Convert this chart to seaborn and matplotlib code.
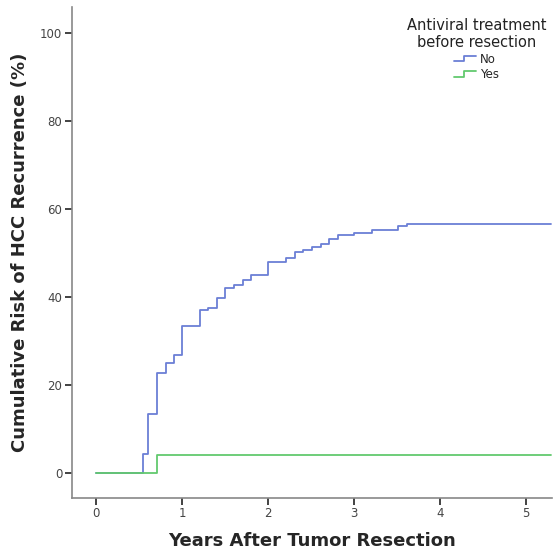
import pandas as pd
import seaborn as sns
import matplotlib
matplotlib.use("Agg")
import matplotlib.pyplot as plt
from matplotlib.lines import Line2D
from matplotlib.legend_handler import HandlerBase

# Cumulative risk curves (years, %)
no_years = [0.0, 0.543, 0.601, 0.706, 0.810, 0.907, 1.003, 1.209, 1.306, 1.403,
            1.500, 1.605, 1.706, 1.802, 2.003, 2.209, 2.306, 2.410, 2.508, 2.613,
            2.709, 2.806, 3.003, 3.210, 3.508, 3.613, 5.287]
no_risk = [0.0, 4.5, 13.6, 22.7, 25.0, 26.8, 33.5, 37.1, 37.6, 39.7,
           42.1, 42.7, 43.9, 45.0, 47.9, 48.9, 50.2, 50.7, 51.3, 52.0,
           53.1, 54.2, 54.6, 55.3, 56.1, 56.6, 56.6]
yes_years = [0.0, 0.706, 5.287]
yes_risk = [0.0, 4.1, 4.1]

groups = ["No", "Yes"]
colors = {"No": "#6b7fd6", "Yes": "#62c96e"}


class StepHandler(HandlerBase):
    def create_artists(self, legend, orig_handle, xdescent, ydescent,
                       width, height, fontsize, trans):
        x0, x1 = -xdescent, -xdescent + width
        y0, y1 = -ydescent + 0.15 * height, -ydescent + 0.85 * height
        xm = x0 + 0.45 * width
        line = Line2D([x0, xm, xm, x1], [y0, y0, y1, y1],
                      color=orig_handle.get_color(), lw=1.3)
        line.set_transform(trans)
        return [line]


def main():
    df = pd.concat([
        pd.DataFrame({"years": no_years, "risk": no_risk, "group": "No"}),
        pd.DataFrame({"years": yes_years, "risk": yes_risk, "group": "Yes"}),
    ])

    sns.set_style("white")
    plt.rcParams["font.family"] = ["DejaVu Sans"]

    fig = plt.figure(figsize=(5.56, 5.52), dpi=100)
    ax = fig.add_axes([0.1295, 0.0984, 0.8635, 0.8886])

    sns.lineplot(data=df, x="years", y="risk", hue="group", hue_order=groups,
                 palette=colors, estimator=None, sort=False,
                 drawstyle="steps-post", linewidth=1.3, legend=False, ax=ax)

    ax.set_xlim(-0.28, 5.30)
    ax.set_ylim(-5.5, 105.8)
    ax.set_xticks([0, 1, 2, 3, 4, 5])
    ax.set_yticks([0, 20, 40, 60, 80, 100])
    ax.tick_params(axis="both", direction="out", length=5, width=1.2,
                   color="#222222", labelsize=8.5, labelcolor="#444444",
                   left=True, bottom=True, pad=2)
    for side in ["top", "right"]:
        ax.spines[side].set_visible(False)
    for side in ["left", "bottom"]:
        ax.spines[side].set_color("#888888")
        ax.spines[side].set_linewidth(1.2)

    ax.set_xlabel("Years After Tumor Resection", fontsize=13, fontweight="bold",
                  labelpad=8)
    ax.set_ylabel("Cumulative Risk of HCC Recurrence (%)", fontsize=13,
                  fontweight="bold", labelpad=8)

    handles = [Line2D([], [], color=colors[g]) for g in groups]
    leg = ax.legend(handles, groups, title="Antiviral treatment\nbefore resection",
                    loc="upper right", bbox_to_anchor=(1.01, 1.0), frameon=False,
                    fontsize=8.5, title_fontsize=10.5, handler_map={Line2D: StepHandler()},
                    handlelength=1.9, handletextpad=0.3, labelspacing=0.2)
    leg._legend_box.align = "center"
    leg.get_title().set_multialignment("center")
    leg.get_title().set_color("#222222")

    fig.savefig("out.png", dpi=100)


if __name__ == "__main__":
    main()
